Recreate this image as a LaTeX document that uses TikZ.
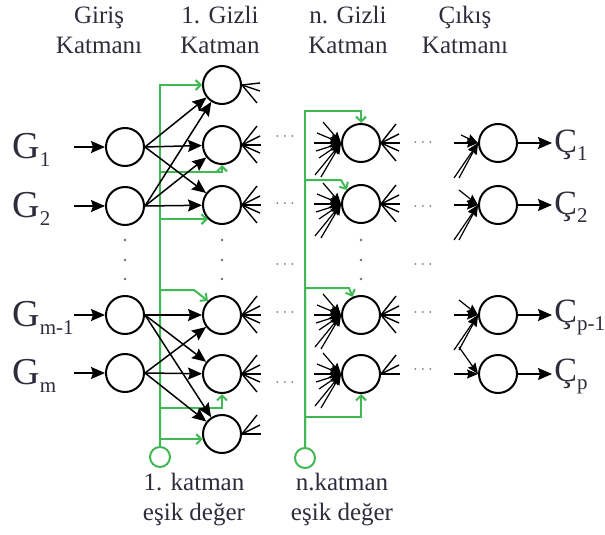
\documentclass[tikz,border=0pt]{standalone}
\usepackage{fontspec}
\setmainfont{Liberation Serif}
\usetikzlibrary{arrows.meta}

\definecolor{esikyesil}{RGB}{64,184,84}
\definecolor{yazi}{RGB}{45,45,60}

\newcommand\altind[1]{\raisebox{-4pt}{\fontsize{10.5}{10.5}\selectfont #1}}

\begin{document}
\begin{tikzpicture}[x=0.5pt,y=-0.5pt,
  noron/.style={circle,draw,line width=1pt,minimum size=19pt,inner sep=0pt},
  esik/.style={circle,draw=esikyesil,line width=1pt,minimum size=10pt,inner sep=0pt},
  bag/.style={line width=0.75pt,-{Stealth[length=7pt,width=6pt,inset=1pt]}},
  fan/.style={line width=0.6pt,-{Stealth[length=5.5pt,width=4.5pt,inset=0.8pt]}},
  kol/.style={line width=0.7pt},
  yesil/.style={esikyesil,line width=1pt,-{Straight Barb[length=2.5pt,width=5pt]}},
  baslik/.style={align=center,text=yazi,font=\fontsize{12.5}{15}\selectfont},
  harf/.style={text=yazi,font=\fontsize{19}{19}\selectfont,inner sep=0pt},
  cikis/.style={text=yazi,font=\fontsize{17}{17}\selectfont,inner sep=0pt},
  nokta/.style={text=yazi!70,font=\fontsize{8}{8}\selectfont,inner sep=0pt}]

\useasboundingbox (0,0) rectangle (605,535);

% katman basliklari
\node[baslik] (t1) at (99,30) {Giriş\\Katmanı};
\node[baslik] (t2) at (220,30) {1. Gizli\\Katman};
\node[baslik] (t3) at (348,30) {n. Gizli\\Katman};
\node[baslik] (t4) at (465,30) {Çıkış\\Katmanı};

% noronlar
\node[noron] (in1) at (125,147) {};
\node[noron] (in2) at (125,206) {};
\node[noron] (in3) at (125,315) {};
\node[noron] (in4) at (125,373) {};

\node[noron] (h1) at (222,85) {};
\node[noron] (h2) at (222,145) {};
\node[noron] (h3) at (222,205) {};
\node[noron] (h4) at (222,315) {};
\node[noron] (h5) at (222,374) {};
\node[noron] (h6) at (222,434) {};

\node[noron] (n1) at (361,143) {};
\node[noron] (n2) at (361,204) {};
\node[noron] (n3) at (361,315) {};
\node[noron] (n4) at (361,374) {};

\node[noron] (o1) at (498,143) {};
\node[noron] (o2) at (498,205) {};
\node[noron] (o3) at (498,315) {};
\node[noron] (o4) at (498,374) {};

\node[esik] (b1) at (160,457) {};
\node[esik] (bn) at (305,458) {};

% esik degerleri
\coordinate (y2) at (222,172);
\coordinate (y4) at (194,290);
\coordinate (y5) at (222,408);
\draw[yesil] (b1.north) |- (h1.west);
\draw[yesil] (b1.north) |- (y2) -- (h2.south);
\draw[yesil] (b1.north) |- (h3.south west);
\draw[yesil] (b1.north) |- (y4) -- (h4.north west);
\draw[yesil] (b1.north) |- (y5) -- (h5.south);
\draw[yesil] (b1.north) |- (h6.195);

\coordinate (z1) at (361,111);
\coordinate (z2) at (341,180);
\coordinate (z3) at (349,288);
\coordinate (z4) at (361,417);
\draw[yesil] (bn.north) |- (z1) -- (n1.north);
\draw[yesil] (bn.north) |- (z2) -- (n2.north west);
\draw[yesil] (bn.north) |- (z3) -- (n3.115);
\draw[yesil] (bn.north) |- (z4) -- (n4.south);

\node[baslik] (e1) at (194,500) {1. katman\\eşik değer};
\node[baslik] (en) at (342,500) {n.katman\\eşik değer};

% girisler
\node[harf,anchor=west] (g1) at (12,150) {G\altind{1}};
\node[harf,anchor=west] (g2) at (12,209) {G\altind{2}};
\node[harf,anchor=west] (g3) at (12,318) {G\altind{m-1}};
\node[harf,anchor=west] (g4) at (12,376) {G\altind{m}};
\foreach \i/\y in {1/147,2/206,3/315,4/373}{
  \coordinate (a\i) at (74,\y);
  \draw[bag] (a\i) -- (in\i.west);
}

% giris -> 1. gizli katman
\foreach \a in {in1,in2}
  \foreach \b in {h1,h2,h3}
    \draw[bag] (\a.east) -- (\b);
\foreach \a in {in3,in4}
  \foreach \b in {h4,h5,h6}
    \draw[bag] (\a.east) -- (\b);

% cikan baglar
\foreach \dx/\dy in {18/-2,18/6,15/18}
  \draw[kol] (h1.east) -- ++(\dx,\dy);
\foreach \h in {h2,h3,h4,h5,n1,n2,n3}
  \foreach \dx/\dy in {15/-19,18/-9,19/0,18/8,15/18}
    \draw[kol] (\h.east) -- ++(\dx,\dy);
\foreach \h in {h6,n4}
  \foreach \dx/\dy in {15/-19,18/-9,19/0}
    \draw[kol] (\h.east) -- ++(\dx,\dy);

% gelen baglar
\foreach \h in {n1,n2,n3,n4}
  \foreach \dx/\dy in {-18/-21,-24/-10,-27/0,-25/8,-22/15,-26/32,-20/34}
    \draw[fan] (\h.west) ++(\dx,\dy) -- (\h.west);
\foreach \dx/\dy in {-24/0,-17/-8,-24/35,-19/35}
  \draw[fan] (o1.west) ++(\dx,\dy) -- (o1.west);
\foreach \h in {o2,o3}
  \foreach \dx/\dy in {-24/0,-19/-15,-24/35,-19/35}
    \draw[fan] (\h.west) ++(\dx,\dy) -- (\h.west);
\foreach \dx/\dy in {-24/0,-19/-27}
  \draw[fan] (o4.west) ++(\dx,\dy) -- (o4.west);

% cikislar
\foreach \i/\s/\y in {1/1/143,2/2/205,3/p-1/315,4/p/374}{
  \coordinate (c\i) at (552,\y);
  \draw[bag] (o\i.east) -- (c\i);
  \node[cikis,anchor=west] (k\i) at (554,\y+2) {Ç\altind{\s}};
}

% noktalar
\foreach \x in {125,222,361}
  \foreach \y in {240,260,279}
    \fill[yazi!70] (\x,\y) circle (1.3);
\foreach \x/\y [count=\i] in {285/137,285/204,285/265,285/313,285/383,
                              423/143,423/207,423/265,423/313,423/370}
  \node[nokta] (d\i) at (\x,\y) {$\cdots$};
\end{tikzpicture}
\end{document}
